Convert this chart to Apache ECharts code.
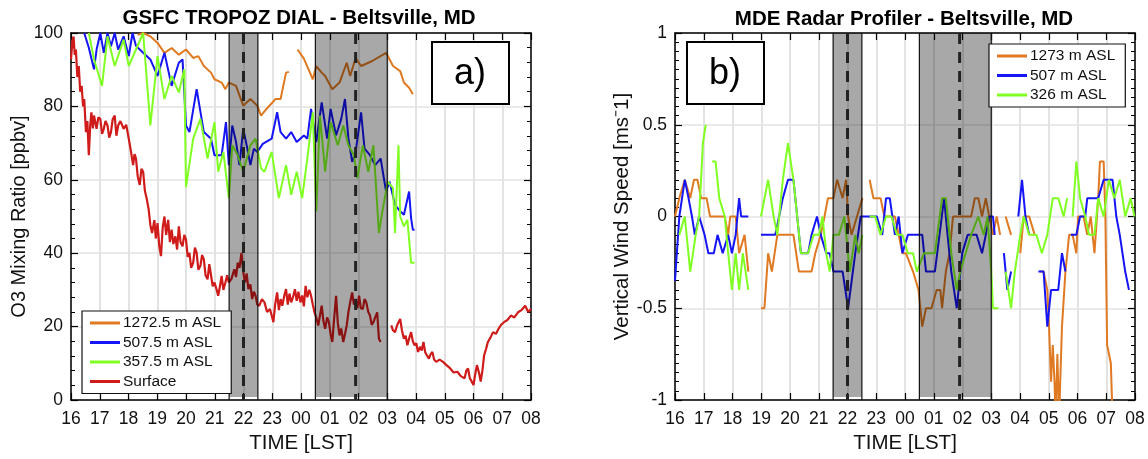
<!DOCTYPE html>
<html>
<head>
<meta charset="utf-8">
<script src="https://cdn.jsdelivr.net/npm/echarts@6/dist/echarts.min.js"></script>
<style>
html, body { margin: 0; background: #fff; }
#chart { width: 1148px; height: 459px; }
</style>
</head>
<body>
<div id="chart"></div>
<script>
// time is decimal local hour, running past midnight (24.5 = 00:30)
var hourTicks = [16, 32];
var shadeSpans = [[21.5, 22.5], [24.5, 27.0]];
var dashTimes = [22.0, 25.9];

// panel a) ozone [ppbv], null = data gap
var o3High = [[18.32,99.5],[18.51,100],[18.76,99.1],[19.01,97.3],[19.25,94.6],[19.50,95.9],[19.75,94.1],[20.00,95.5],[20.25,93.2],[20.43,93.7],[20.62,91.0],[20.87,89.2],[20.99,87.4],[21.24,86.5],[21.37,84.7],[21.49,86.5],[21.74,85.6],[21.99,80.2],[22.24,82.0],[22.48,80.2],[22.61,77.5],[22.80,79.3],[23.11,82.0],[23.29,82.0],[23.48,89.2],[23.58,89.4],null,
  [23.88,95.5],[24.10,93.0],[24.41,87.4],[24.53,91.0],[24.72,89.2],[24.84,88.3],[25.09,84.7],[25.34,86.5],[25.59,91.9],[25.71,88.3],[25.90,93.2],[26.09,91.0],[26.46,92.3],[26.96,94.6],[27.20,91.0],[27.45,89.6],[27.58,86.5],[27.76,85.1],[27.89,83.3]];
var o3Mid = [[16.46,100],[16.62,96.0],[16.80,90.1],[16.89,95.5],[17.02,100],[17.14,94.6],[17.27,100],[17.39,96.4],[17.52,100],[17.64,95.5],[17.83,99.1],[18.01,93.7],[18.14,100],[18.26,96.5],[18.51,94.6],[18.76,92.8],[19.01,88.3],[19.25,94.6],[19.50,85.6],[19.75,91.9],[19.88,92.8],[20.00,74.8],[20.12,73.0],[20.37,84.7],[20.62,73.0],[20.87,71.2],[20.99,66.7],[21.24,66.7],[21.39,75.7],[21.49,64.0],[21.61,74.8],[21.74,70.3],[21.86,64.0],[21.99,73.9],[22.11,69.4],[22.24,64.0],[22.36,68.5],[22.48,67.6],[22.67,69.8],[22.98,71.2],[23.17,78.4],[23.29,73.0],[23.48,71.2],[23.66,73.0],[23.85,70.3],[24.10,72.1],[24.22,71.2],[24.35,79.3],[24.53,70.3],[24.72,81.1],[24.91,71.2],[25.03,79.3],[25.22,72.1],[25.40,76.6],[25.53,82.0],[25.65,71.2],[25.78,64.9],[25.90,67.6],[26.09,78.4],[26.21,68.5],[26.40,66.7],[26.58,64.0],[26.77,65.8],[26.96,56.8],[27.08,59.5],[27.27,53.2],[27.45,51.4],[27.58,50.5],[27.76,56.8],[27.83,49.5],[27.89,46.4],[27.95,46.4]];
var o3Low = [[16.62,100],[16.80,92.8],[17.08,85.6],[17.27,99.1],[17.52,91.0],[17.83,98.2],[18.01,91.0],[18.26,95.5],[18.51,100],[18.76,74.8],[19.01,93.7],[19.25,82.0],[19.50,88.3],[19.75,83.8],[19.94,90.1],[20.00,58.0],[20.25,71.2],[20.50,76.6],[20.75,65.8],[20.99,75.7],[21.12,62.2],[21.30,67.6],[21.49,55.0],[21.61,69.4],[21.80,66.7],[21.99,62.2],[22.24,69.4],[22.42,71.2],[22.61,63.1],[22.73,62.2],[22.98,67.6],[23.23,55.0],[23.48,64.0],[23.66,55.9],[23.85,62.2],[24.04,55.0],[24.22,65.8],[24.41,78.4],[24.53,51.4],[24.66,77.5],[24.84,62.2],[25.03,75.7],[25.28,69.4],[25.47,74.8],[25.65,69.4],[25.84,66.7],[25.96,60.4],[26.15,69.4],[26.34,62.2],[26.52,69.4],[26.71,45.5],[26.83,51.4],[27.02,59.5],[27.20,57.7],[27.27,45.5],[27.39,69.4],[27.45,50.0],[27.58,47.3],[27.70,49.1],[27.83,37.4],[27.95,37.4]];
var o3Surface = [[16.00,92.8],[16.05,98.0],[16.09,99.0],[16.13,94.0],[16.17,95.5],[16.22,88.0],[16.27,91.0],[16.32,84.0],[16.37,85.6],[16.42,80.0],[16.46,82.0],[16.52,73.0],[16.57,76.0],[16.62,66.7],[16.67,75.0],[16.71,78.4],[16.76,74.0],[16.80,77.5],[16.85,75.5],[16.89,73.9],[16.95,77.0],[17.02,76.6],[17.08,72.5],[17.14,73.9],[17.20,76.0],[17.27,74.8],[17.33,71.5],[17.39,73.0],[17.45,76.5],[17.52,77.5],[17.58,72.0],[17.64,74.8],[17.72,76.0],[17.83,73.9],[17.92,75.0],[18.01,71.2],[18.08,68.0],[18.16,64.0],[18.21,67.0],[18.26,65.8],[18.32,61.0],[18.39,58.6],[18.45,63.0],[18.51,62.2],[18.57,57.0],[18.63,55.0],[18.70,52.0],[18.76,47.7],[18.82,45.5],[18.90,49.0],[18.95,44.0],[19.01,48.2],[19.07,42.0],[19.13,39.2],[19.19,47.0],[19.25,50.0],[19.31,45.0],[19.38,49.1],[19.44,43.0],[19.50,46.4],[19.56,42.5],[19.63,44.6],[19.69,41.0],[19.75,47.3],[19.81,43.0],[19.88,41.9],[19.94,45.0],[20.00,43.7],[20.06,39.0],[20.12,40.1],[20.18,36.0],[20.25,37.4],[20.31,41.5],[20.37,40.1],[20.43,35.5],[20.50,36.5],[20.56,39.5],[20.62,38.3],[20.68,34.0],[20.75,32.9],[20.81,37.0],[20.87,36.5],[20.93,31.0],[20.99,32.0],[21.05,30.5],[21.12,28.4],[21.18,31.0],[21.24,33.8],[21.30,30.0],[21.37,32.0],[21.43,34.0],[21.49,32.0],[21.58,33.0],[21.68,35.6],[21.74,33.5],[21.80,37.4],[21.86,36.0],[21.93,40.1],[21.99,35.0],[22.05,32.0],[22.11,34.5],[22.17,30.2],[22.24,31.5],[22.30,27.5],[22.36,29.5],[22.42,28.4],[22.48,26.0],[22.55,25.7],[22.64,27.5],[22.73,26.6],[22.82,24.0],[22.92,24.8],[22.98,23.0],[23.04,21.2],[23.10,26.0],[23.17,29.3],[23.23,24.5],[23.29,27.5],[23.35,25.7],[23.42,28.5],[23.48,30.2],[23.54,26.0],[23.60,29.0],[23.66,26.6],[23.72,28.0],[23.79,30.2],[23.85,27.0],[23.91,29.5],[23.98,26.6],[24.04,28.5],[24.10,25.5],[24.16,31.1],[24.22,28.0],[24.29,30.0],[24.35,28.4],[24.41,26.0],[24.47,23.9],[24.53,22.5],[24.60,20.3],[24.66,23.0],[24.72,25.7],[24.78,21.5],[24.84,19.4],[24.91,22.5],[24.97,21.2],[25.03,18.0],[25.09,15.8],[25.15,22.0],[25.22,28.4],[25.28,21.0],[25.34,17.6],[25.40,19.5],[25.47,15.8],[25.53,18.0],[25.59,20.3],[25.65,24.0],[25.72,27.0],[25.78,29.3],[25.84,26.0],[25.90,27.5],[25.96,25.0],[26.02,28.4],[26.08,25.0],[26.15,24.8],[26.21,27.5],[26.27,26.6],[26.34,24.0],[26.40,23.0],[26.46,20.5],[26.52,21.2],[26.58,22.5],[26.65,23.9],[26.71,16.7],[26.77,15.8],null,
  [27.14,20.3],[27.20,19.0],[27.27,18.5],[27.35,20.5],[27.45,22.1],[27.51,19.0],[27.58,16.7],[27.64,17.5],[27.70,14.9],[27.77,17.0],[27.83,18.5],[27.89,16.0],[27.95,14.9],[28.01,15.5],[28.07,13.1],[28.14,14.5],[28.20,13.5],[28.26,15.8],[28.32,13.0],[28.39,12.0],[28.45,11.3],[28.51,12.5],[28.57,13.1],[28.63,11.0],[28.70,10.4],[28.82,11.0],[28.94,10.4],[29.06,9.5],[29.19,8.6],[29.31,7.5],[29.44,7.7],[29.56,6.5],[29.69,5.9],[29.75,8.0],[29.81,8.6],[29.87,6.0],[29.94,5.0],[30.00,4.1],[30.06,7.0],[30.12,9.5],[30.19,7.5],[30.25,5.0],[30.31,8.0],[30.37,12.2],[30.44,14.0],[30.50,15.8],[30.59,17.0],[30.68,18.5],[30.78,18.0],[30.87,19.4],[30.96,20.5],[31.06,21.2],[31.18,21.8],[31.30,23.0],[31.42,22.5],[31.55,23.9],[31.67,24.5],[31.80,25.7],[31.90,24.0],[32.00,24.8]];

// panel b) vertical wind [m/s], null = data gap
var wHigh = [[16.00,0],[16.15,0.1],[16.34,0.2],[16.53,0.1],[16.66,0.2],[16.78,0.2],[16.91,0.1],[17.10,0.1],[17.22,0],[17.73,0],[17.85,-0.1],[17.92,0],[18.11,0],[18.23,-0.2],[18.42,-0.1],[18.55,-0.3],null,
  [18.99,-0.5],[19.11,-0.5],[19.24,-0.2],[19.37,-0.3],[19.56,-0.1],[20.12,-0.1],[20.31,-0.3],[20.75,-0.3],[20.88,-0.2],[21.07,-0.1],[21.20,0],[21.32,0.1],[21.51,0.1],[21.64,0.2],[21.83,0.1],[21.95,0.2],[22.02,0],[22.14,-0.1],[22.33,0],[22.52,0.1],null,
  [22.77,0.2],[22.90,0.1],[23.15,0.1],[23.28,0],[23.65,0],[23.78,-0.1],[23.91,-0.2],[24.03,-0.2],[24.28,-0.3],[24.47,-0.4],[24.60,-0.6],[24.73,-0.5],[24.92,-0.5],[25.10,-0.4],[25.23,-0.4],[25.29,-0.5],[25.42,-0.3],[25.55,-0.2],[25.67,0],[26.30,0],[26.43,0.1],[26.55,0.1],[26.68,0],[26.81,0.1],[26.93,0],[27.06,-0.1],[27.19,0],[27.31,-0.1],null,
  [27.50,0],[27.69,-0.1],null,[28.01,-0.2],[28.13,0],[28.32,0],[28.51,-0.1],null,
  [28.70,-0.3],[28.82,-0.3],[28.95,-0.4],[29.01,-0.6],[29.08,-0.9],[29.14,-0.7],[29.20,-0.9],[29.24,-1.1],[29.30,-0.75],[29.36,-1.1],[29.46,-0.6],[29.58,-0.3],[29.71,-0.1],[29.83,-0.1],[29.96,-0.2],[30.02,0],[30.21,0],[30.34,-0.1],[30.46,0],[30.59,-0.2],[30.72,0.1],[30.78,0.3],[30.91,0.3],[30.97,0],[31.03,-0.7],[31.16,-0.8],[31.22,-1.1]];
var wMid = [[16.00,-0.35],[16.15,0],[16.34,0.2],[16.47,0.1],[16.59,0],[16.69,-0.1],[16.84,0],[17.03,-0.1],[17.16,-0.2],[17.35,-0.2],[17.48,-0.1],[17.66,-0.2],[17.85,-0.1],[17.98,-0.2],[18.11,-0.1],[18.23,0.1],[18.30,0],[18.55,0],null,
  [18.99,-0.1],[19.49,-0.1],[19.62,0],[19.75,0.1],[19.93,0.2],[20.12,0.2],[20.25,0],[20.38,-0.2],[20.63,-0.2],[20.75,-0.1],[20.94,0],[21.07,-0.1],[21.26,-0.2],[21.38,-0.2],[21.51,-0.3],[21.83,-0.3],[22.02,-0.5],[22.27,-0.2],[22.46,0],[22.58,0],
  [22.77,0],[23.02,0],[23.21,-0.1],[23.34,0.1],[23.47,0.1],[23.65,-0.1],[23.78,0],[23.91,-0.2],[24.10,-0.1],[24.41,-0.1],[24.60,-0.1],[24.73,-0.3],[25.04,-0.3],[25.36,0.1],[25.48,-0.1],[25.61,-0.3],[25.80,-0.5],[25.99,-0.2],[26.18,-0.1],[26.49,-0.1],[26.68,-0.2],[26.81,-0.1],[26.93,0],[27.06,0],[27.12,-0.1],null,
  [27.44,-0.2],[27.56,-0.4],[27.69,-0.3],null,[27.94,0],[28.07,0.2],[28.19,0],[28.32,-0.1],null,
  [28.64,-0.3],[28.82,-0.3],[28.95,-0.6],[29.08,-0.4],[29.33,-0.4],[29.46,-0.2],[29.58,-0.3],null,
  [29.77,-0.1],[29.96,-0.1],[30.09,0],[30.27,0],[30.34,0.1],[30.72,0.1],[30.91,0.2],[31.22,0.2],[31.35,0],[31.47,-0.1],[31.66,-0.3],[31.79,-0.4],null,[31.98,-0.3]];
var wLow = [[16.15,-0.1],[16.34,0],[16.53,-0.3],[16.72,-0.1],[16.84,0],[16.97,0.4],[17.07,0.5],null,
  [17.29,0.3],[17.41,0.3],[17.54,0.1],[17.73,0],[17.85,-0.2],[17.98,-0.4],[18.11,-0.2],[18.23,-0.4],[18.36,-0.2],[18.55,-0.4],null,
  [18.99,0],[19.24,0.2],[19.43,0],[19.56,-0.1],[19.75,0.2],[19.93,0.4],[20.12,0.2],[20.25,0],[20.38,-0.2],[20.63,-0.2],[20.82,-0.1],[21.01,-0.1],[21.13,0],[21.26,-0.2],[21.38,-0.3],[21.51,-0.1],[21.70,-0.1],[21.89,0],[22.08,-0.3],[22.27,-0.1],[22.39,-0.2],[22.52,-0.1],null,
  [22.77,0],[22.96,0],[23.15,-0.1],[23.34,0],[23.53,0],[23.72,-0.1],[23.91,-0.1],[24.10,-0.2],[24.28,-0.2],[24.41,-0.3],[24.66,-0.2],[25.04,-0.2],[25.29,0.1],[25.42,0.1],[25.61,-0.2],[25.80,-0.4],[25.92,-0.3],[26.11,-0.2],[26.30,-0.1],[26.55,0],[26.74,-0.1],[26.87,0],[27.00,-0.3],[27.06,-0.5],[27.25,-0.5],null,
  [27.50,-0.3],[27.69,-0.5],[27.82,-0.3],[28.01,-0.1],[28.13,0],[28.32,-0.1],[28.57,-0.1],[28.76,-0.2],[28.95,-0.1],[29.14,0.1],[29.33,0.1],[29.52,0],[29.64,0.1],null,
  [29.83,0],[29.96,0.3],[30.09,0.1],[30.27,0],[30.40,-0.1],[30.59,-0.1],[30.72,0.1],[30.91,0],[31.09,0.2],[31.28,0.1],[31.47,0.2],[31.66,0],[31.85,0.1],[31.98,0]];

var FONT = 'Liberation Sans, Arial, sans-serif';
var mychart = echarts.init(document.getElementById('chart'));

function gaps(arr) {
	return arr.map(function (p) { return p === null ? ['-', '-'] : p; });
}
function hourLabel(v) {
	var h = ((v % 24) + 24) % 24;
	return (h < 10 ? '0' : '') + h;
}

function xAxisFor(grid, top) {
	return {
		gridIndex: grid, type: 'value', min: hourTicks[0], max: hourTicks[1], interval: 1,
		position: top ? 'top' : 'bottom',
		axisLine: { onZero: false, lineStyle: { color: '#000', width: 1.5 } },
		axisTick: { inside: true, length: 7, lineStyle: { color: '#000', width: 1.2 } },
		axisLabel: top ? { show: false } : {
			formatter: hourLabel, fontSize: 17.5, color: '#111', margin: 10,
			showMinLabel: true, showMaxLabel: true
		},
		splitLine: { show: !top, lineStyle: { color: '#e3e3e3', width: 2 } },
		name: top ? '' : 'TIME [LST]', nameLocation: 'middle', nameGap: 33,
		nameTextStyle: { fontSize: 20.5, color: '#111' }
	};
}

function yAxisFor(grid, right, lo, hi, step, minor, title, nameSize, gap) {
	return {
		gridIndex: grid, type: 'value', min: lo, max: hi, interval: step,
		position: right ? 'right' : 'left',
		axisLine: { onZero: false, lineStyle: { color: '#000', width: 1.5 } },
		axisTick: { inside: true, length: 7, lineStyle: { color: '#000', width: 1.2 } },
		minorTick: { show: true, splitNumber: minor, length: 4, lineStyle: { color: '#000', width: 1 } },
		axisLabel: right ? { show: false } : { fontSize: 17.5, color: '#111', margin: 8 },
		splitLine: { show: !right, lineStyle: { color: '#e3e3e3', width: 1.5 } },
		name: right ? '' : title, nameLocation: 'middle', nameGap: gap,
		nameTextStyle: { fontSize: nameSize, color: '#111' }
	};
}

function lineSeries(name, data, color, axis, width) {
	return {
		name: name, type: 'line', data: gaps(data), xAxisIndex: axis, yAxisIndex: axis,
		showSymbol: false, connectNulls: false, z: 3, animation: false,
		lineStyle: { color: color, width: width }, itemStyle: { color: color }
	};
}

function shadeSeries(axis) {
	return {
		type: 'custom', xAxisIndex: axis, yAxisIndex: axis, z: 10, silent: true, animation: false,
		data: shadeSpans, encode: { x: [0, 1] },
		renderItem: function (params, api) {
			var cs = params.coordSys;
			var x0 = api.coord([api.value(0), 0])[0];
			var x1 = api.coord([api.value(1), 0])[0];
			var edge = { stroke: '#111', lineWidth: 1.2 };
			return {
				type: 'group', children: [
					{ type: 'rect', shape: { x: x0, y: cs.y, width: x1 - x0, height: cs.height - 3 },
					  style: { fill: 'rgba(0,0,0,0.34)' } },
					{ type: 'line', shape: { x1: x0, y1: cs.y, x2: x0, y2: cs.y + cs.height }, style: edge },
					{ type: 'line', shape: { x1: x1, y1: cs.y, x2: x1, y2: cs.y + cs.height }, style: edge }
				]
			};
		}
	};
}

function dashSeries(axis) {
	return {
		type: 'custom', xAxisIndex: axis, yAxisIndex: axis, z: 11, silent: true, animation: false,
		data: dashTimes.map(function (t) { return [t]; }), encode: { x: 0 },
		renderItem: function (params, api) {
			var cs = params.coordSys;
			var x = api.coord([api.value(0), 0])[0];
			return { type: 'line', shape: { x1: x, y1: cs.y, x2: x, y2: cs.y + cs.height },
				style: { stroke: '#222', lineWidth: 3, lineDash: [11, 8] } };
		}
	};
}

function legendFor(left, top, names) {
	return {
		left: left, top: top, orient: 'vertical', data: names, icon: 'rect',
		itemWidth: 30, itemHeight: 3, itemGap: 3.5, z: 20,
		backgroundColor: '#fff', borderColor: '#111', borderWidth: 1.2, borderRadius: 0,
		padding: [4, 10, 4, 8], selectedMode: false,
		textStyle: { fontSize: 15.5, color: '#111', padding: [0, 0, 0, -2] }
	};
}

function panelTag(x, y, label) {
	return [
		{ type: 'rect', z: 30, shape: { x: x, y: y, width: 77, height: 62 },
		  style: { fill: '#fff', stroke: '#000', lineWidth: 2 } },
		{ type: 'text', z: 31, x: x + 38, y: y + 32,
		  style: { text: label, fontSize: 36, fontFamily: FONT, fill: '#000', align: 'center', verticalAlign: 'middle' } }
	];
}

var option = {
	animation: false,
	textStyle: { fontFamily: FONT },
	grid: [
		{ left: 71, top: 33, width: 460, height: 371 },
		{ left: 675, top: 33, width: 460, height: 371 }
	],
	xAxis: [xAxisFor(0, false), xAxisFor(0, true), xAxisFor(1, false), xAxisFor(1, true)],
	yAxis: [
		yAxisFor(0, false, 0, 100, 20, 5, 'O3 Mixing Ratio [ppbv]', 20, 35),
		yAxisFor(0, true, 0, 100, 20, 5, '', 20, 35),
		yAxisFor(1, false, -1, 1, 0.5, 10, 'Vertical Wind Speed [ms\u207b1]', 20.5, 38),
		yAxisFor(1, true, -1, 1, 0.5, 10, '', 20, 38)
	],
	legend: [
		legendFor(82, 311, ['1272.5 m ASL', '507.5 m ASL', '357.5 m ASL', 'Surface']),
		legendFor(989, 44, ['1273 m ASL', '507 m ASL', '326 m ASL'])
	],
	graphic: [
		{ type: 'text', x: 299, y: 18, z: 40,
		  style: { text: 'GSFC TROPOZ DIAL - Beltsville, MD', fontSize: 20.5, fontWeight: 'bold', fontFamily: FONT, fill: '#000', align: 'center', verticalAlign: 'middle' } },
		{ type: 'text', x: 904, y: 19, z: 40,
		  style: { text: 'MDE Radar Profiler - Beltsville, MD', fontSize: 20.5, fontWeight: 'bold', fontFamily: FONT, fill: '#000', align: 'center', verticalAlign: 'middle' } }
	].concat(panelTag(432, 42, 'a)'), panelTag(687, 42, 'b)')),
	series: [
		lineSeries('1272.5 m ASL', o3High, '#e07a22', 0, 2),
		lineSeries('507.5 m ASL', o3Mid, '#1515f5', 0, 2),
		lineSeries('357.5 m ASL', o3Low, '#80ff22', 0, 2),
		lineSeries('Surface', o3Surface, '#d01b1b', 0, 2.2),
		shadeSeries(0), dashSeries(0),
		lineSeries('1273 m ASL', wHigh, '#e07a22', 2, 2),
		lineSeries('507 m ASL', wMid, '#1515f5', 2, 2),
		lineSeries('326 m ASL', wLow, '#80ff22', 2, 2),
		shadeSeries(2), dashSeries(2)
	]
};

mychart.setOption(option);
window.addEventListener('resize', function () { mychart.resize(); });
</script>
</body>
</html>
